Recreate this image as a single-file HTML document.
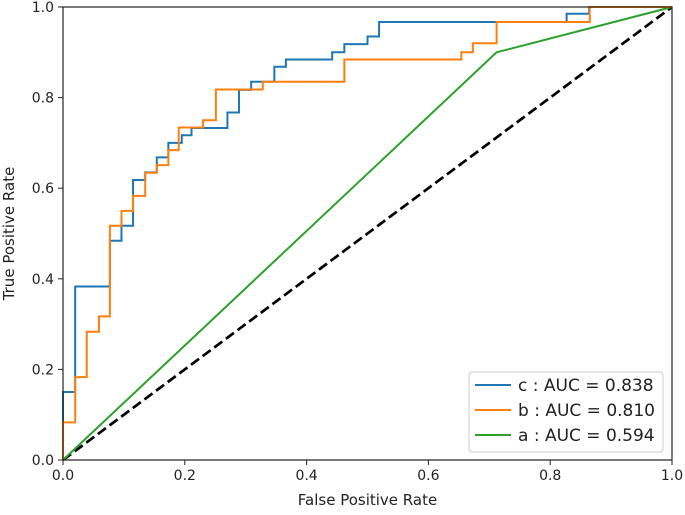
<!DOCTYPE html>
<html><head><meta charset="utf-8"><style>
body{margin:0;background:#fff;}
svg text{font-family:"DejaVu Sans","Liberation Sans",sans-serif;fill:#222;}
</style></head><body>
<svg id="chart" width="685" height="510" xmlns="http://www.w3.org/2000/svg">
<g id="marks"></g>
<g id="axes"></g>
</svg>
<script>
const tickVals = [0, 0.2, 0.4, 0.6, 0.8, 1.0];
const tickLabels = ["0.0", "0.2", "0.4", "0.6", "0.8", "1.0"];
const cFpr = [0,0,0.020,0.077,0.096,0.115,0.135,0.154,0.173,0.195,0.211,0.270,0.289,0.309,0.347,0.366,0.442,0.462,0.500,0.519,0.827,0.864,1];
const cTpr = [0,0.15,0.383,0.484,0.517,0.618,0.635,0.668,0.70,0.717,0.733,0.767,0.817,0.835,0.868,0.884,0.90,0.918,0.935,0.967,0.985,1,1];
const bFpr = [0,0,0.020,0.039,0.059,0.077,0.096,0.115,0.135,0.154,0.173,0.190,0.230,0.251,0.328,0.462,0.654,0.673,0.712,0.865,1];
const bTpr = [0,0.083,0.183,0.283,0.317,0.517,0.55,0.583,0.634,0.651,0.684,0.734,0.75,0.818,0.835,0.884,0.90,0.92,0.967,1,1];
const aFpr = [0,0.712,1];
const aTpr = [0,0.90,1];
const seriesNames = ["c : AUC = 0.838","b : AUC = 0.810","a : AUC = 0.594"];

const X0=63,X1=672,Y0=460,Y1=7;
const sx=v=>X0+v*(X1-X0);
const sy=v=>Y0-v*(Y0-Y1);
const NS="http://www.w3.org/2000/svg";
const marks=document.getElementById('marks'), axes=document.getElementById('axes');
function mk(tag,attrs,parent){const e=document.createElementNS(NS,tag);for(const k in attrs)e.setAttribute(k,attrs[k]);parent.appendChild(e);return e;}

function stepPath(xs,ys){let d=`M${sx(xs[0])},${sy(ys[0])}`;for(let i=1;i<xs.length;i++){d+=` L${sx(xs[i])},${sy(ys[i-1])} L${sx(xs[i])},${sy(ys[i])}`;}return d;}
function linePath(xs,ys){return xs.map((x,i)=>(i?'L':'M')+sx(x)+','+sy(ys[i])).join(' ');}

let p;
p=mk('path',{d:linePath([0,1],[0,1]),stroke:'#000',fill:'none','stroke-width':2.7,'stroke-dasharray':'10,4.5'},marks);


p=mk('path',{d:linePath(aFpr,aTpr),stroke:'#2ca02c',fill:'none','stroke-width':2},marks);


p=mk('path',{d:stepPath(cFpr,cTpr),stroke:'#1f77b4',fill:'none','stroke-width':2},marks);


p=mk('path',{d:stepPath(bFpr,bTpr),stroke:'#ff7f0e',fill:'none','stroke-width':2},marks);



p=mk('rect',{x:X0,y:Y1,width:X1-X0,height:Y0-Y1,fill:'none',stroke:'#222','stroke-width':1.2},axes);



tickVals.forEach((v,i)=>{
  let t=mk('line',{x1:sx(v),x2:sx(v),y1:Y0,y2:Y0+5,stroke:'#222'},axes);
  
  
  let l=mk('text',{x:sx(v),y:Y0+20,'text-anchor':'middle','font-size':14},axes);l.textContent=tickLabels[i];
  
  
  t=mk('line',{x1:X0-5,x2:X0,y1:sy(v),y2:sy(v),stroke:'#222'},axes);
  
  
  l=mk('text',{x:X0-9,y:sy(v)+5,'text-anchor':'end','font-size':14},axes);l.textContent=tickLabels[i];
  
  
});
let xt=mk('text',{x:(X0+X1)/2,y:505,'text-anchor':'middle','font-size':15},axes);xt.textContent='False Positive Rate';


let yt=mk('text',{x:0,y:0,'text-anchor':'middle','font-size':15,transform:`translate(14,${(Y0+Y1)/2}) rotate(-90)`},axes);yt.textContent='True Positive Rate';



const lg=mk('g',{},axes);


mk('rect',{x:469,y:372,width:194,height:80,rx:3,fill:'#fff','fill-opacity':0.8,stroke:'#ccc'},lg);
const cols=['#1f77b4','#ff7f0e','#2ca02c'];
seriesNames.forEach((n,i)=>{
  const y=385+i*25;
  const g=mk('g',{},lg);
  
  
  mk('line',{x1:475,x2:511,y1:y,y2:y,stroke:cols[i],'stroke-width':2},g);
  const t=mk('text',{x:518,y:y+6,'font-size':17},g);t.textContent=n;
});
</script>
</body></html>
